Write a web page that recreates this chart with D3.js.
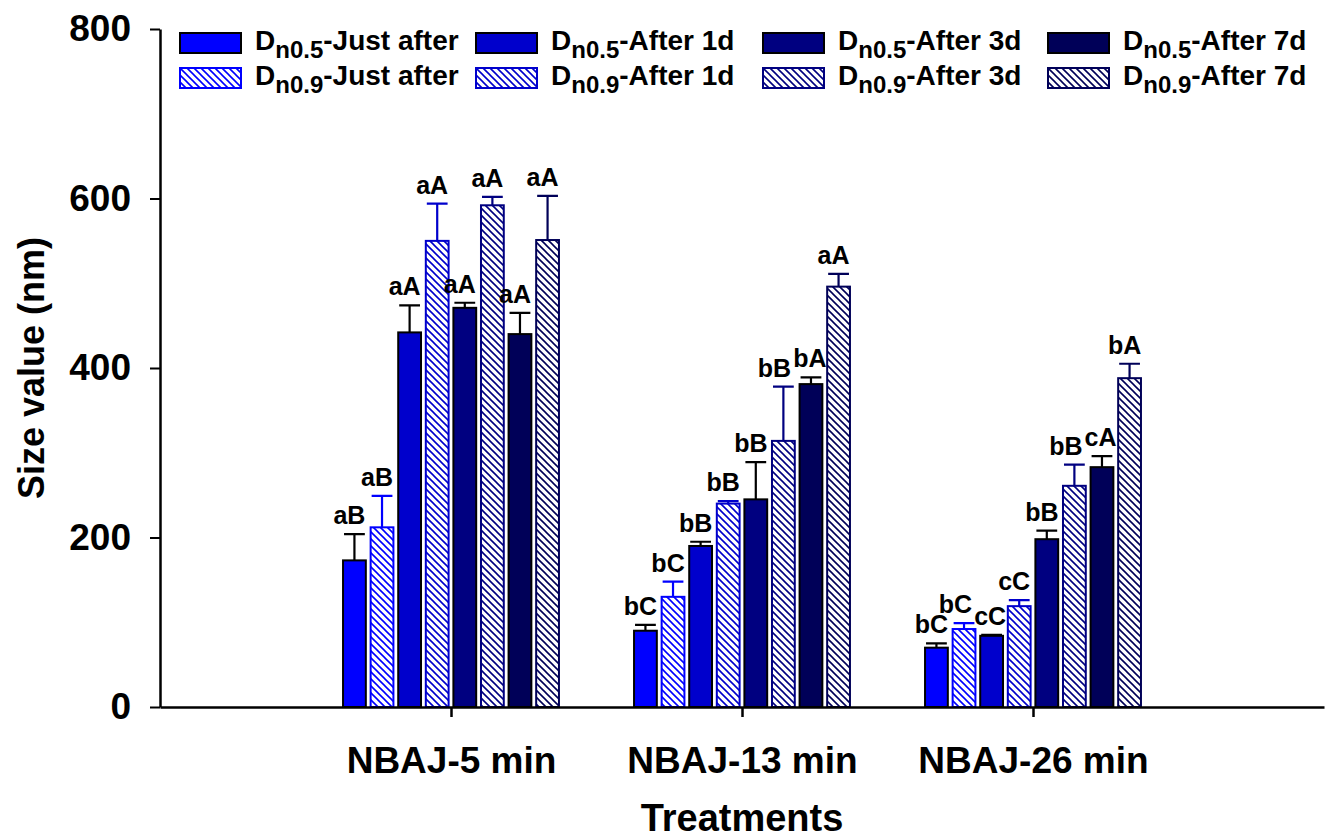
<!DOCTYPE html>
<html>
<head>
<meta charset="utf-8">
<script src="https://cdn.jsdelivr.net/npm/d3@7"></script>
<style>
  html, body { margin: 0; padding: 0; background: #fff; }
  svg { display: block; }
  text { font-family: "Liberation Sans", Arial, sans-serif; font-weight: bold; fill: #000; }
</style>
</head>
<body>
<svg id="chart" width="1326" height="840"></svg>
<script>
// ---- data ----
const treatments = ["NBAJ-5 min", "NBAJ-13 min", "NBAJ-26 min"];
const diameters = ["n0.5", "n0.9"];
const times = ["Just after", "After 1d", "After 3d", "After 7d"];
const yTicks = [0, 200, 400, 600, 800];

// bar order within each treatment: n0.5/n0.9 alternating for each time
const means5min  = [173, 212, 442, 550, 471, 592, 440, 551];
const errors5min = [31, 37, 32, 44, 6, 10, 25, 52];
const letters5min = ["aB", "aB", "aA", "aA", "aA", "aA", "aA", "aA"];

const means13min  = [90, 130, 190, 240, 245, 314, 381, 496];
const errors13min = [7, 18, 5, 3, 44, 64, 8, 15];
const letters13min = ["bC", "bC", "bB", "bB", "bB", "bB", "bA", "aA"];

const means26min  = [70, 92, 84, 119, 198, 261, 283, 388];
const errors26min = [5, 7, 1, 7, 10, 25, 13, 17];
const letters26min = ["bC", "bC", "cC", "cC", "bB", "bB", "cA", "bA"];

const timeColors = ["#0000ff", "#0000cc", "#000080", "#000058"];

// ---- assemble ----
const meansByTreatment = [means5min, means13min, means26min];
const errorsByTreatment = [errors5min, errors13min, errors26min];
const lettersByTreatment = [letters5min, letters13min, letters26min];

const bars = [];
treatments.forEach((t, gi) => {
  meansByTreatment[gi].forEach((v, si) => {
    bars.push({
      group: gi, slot: si,
      diam: si % 2, time: Math.floor(si / 2),
      value: v, err: errorsByTreatment[gi][si], letter: lettersByTreatment[gi][si]
    });
  });
});

const svg = d3.select("#chart");
const x = d3.scaleLinear().domain([0, 4]).range([160, 1324]);
const y = d3.scaleLinear().domain([0, 800]).range([707, 29]);
const groupSpan = x(0.742) - x(0);
const inner = d3.scaleBand().domain(d3.range(8))
  .range([-groupSpan / 2, groupSpan / 2]).paddingInner(0.174).paddingOuter(0);

// hatch patterns (diagonal "\" strokes on white)
const defs = svg.append("defs");
timeColors.forEach((c, i) => {
  const p = defs.append("pattern").attr("id", "hatch" + i)
    .attr("patternUnits", "userSpaceOnUse").attr("width", 7).attr("height", 7);
  p.append("rect").attr("width", 7).attr("height", 7).attr("fill", "#fff");
  p.append("path").attr("d", "M0,0L7,7M-1,6L1,8M6,-1L8,1")
    .attr("stroke", c).attr("stroke-width", 1.6).attr("fill", "none");
});
const fillFor = d => d.diam === 0 ? timeColors[d.time] : `url(#hatch${d.time})`;
const strokeFor = d => d.diam === 0 ? "#000" : timeColors[d.time];
const barX = d => x(d.group + 1) + inner(d.slot);
const barCx = d => barX(d) + inner.bandwidth() / 2;

// ---- bars ----
svg.append("g").selectAll("rect").data(bars).join("rect")
  .attr("x", barX)
  .attr("y", d => y(d.value))
  .attr("width", inner.bandwidth())
  .attr("height", d => y(0) - y(d.value))
  .attr("fill", fillFor)
  .attr("stroke", strokeFor)
  .attr("stroke-width", 2);

// ---- error bars (upper only) ----
const eg = svg.append("g").attr("fill", "none").attr("stroke-width", 2.2);
eg.selectAll("path").data(bars).join("path")
  .attr("stroke", strokeFor)
  .attr("d", d => {
    const cx = barCx(d), y0 = y(d.value), y1 = y(d.value + d.err), h = inner.bandwidth() / 2 - 1;
    return `M${cx},${y0}V${y1}M${cx - h},${y1}H${cx + h}`;
  });

// ---- significance letters ----
const letterSize = 25;
const letterText = svg.append("g").selectAll("text").data(bars).join("text")
  .attr("text-anchor", "middle")
  .attr("font-size", letterSize)
  .text(d => d.letter);
bars.forEach(d => { d.lx = barCx(d) - 5; d.ly = y(d.value + d.err) - 10; });
letterText.each(function (d) { d.lw = this.getComputedTextLength(); });
// push neighbouring letters apart sideways when they would collide
treatments.forEach((t, gi) => {
  const row = bars.filter(d => d.group === gi);
  for (let i = 1; i < row.length; i++) {
    const a = row[i - 1], b = row[i];
    if (Math.abs(a.ly - b.ly) < letterSize * 0.75) {
      const overlap = (a.lx + a.lw / 2) - (b.lx - b.lw / 2) + 2;
      if (overlap > 0) { a.lx -= overlap / 2; b.lx += overlap / 2; }
    }
  }
});
letterText.attr("x", d => d.lx).attr("y", d => d.ly);

// ---- axes ----
const yAxis = svg.append("g").attr("transform", `translate(${x(0)},0)`)
  .call(d3.axisLeft(y).tickValues(yTicks).tickSize(10).tickSizeOuter(0).tickPadding(19).tickFormat(d3.format("d")));
yAxis.selectAll("text").attr("font-size", 37);
yAxis.selectAll("line, path").attr("stroke", "#000").attr("stroke-width", 2);

const xAxis = svg.append("g").attr("transform", `translate(0,${y(0)})`)
  .call(d3.axisBottom(x).tickValues([1, 2, 3]).tickSize(10).tickSizeOuter(0).tickFormat(d => treatments[d - 1]));
xAxis.selectAll("text").attr("font-size", 37).attr("y", 66).attr("dy", null);
xAxis.selectAll("line, path").attr("stroke", "#000").attr("stroke-width", 2.5);
svg.selectAll(".domain").attr("stroke-width", 2.5);
svg.selectAll(".tick text").attr("font-family", "'Liberation Sans', Arial, sans-serif").attr("font-weight", "bold");

// ---- axis titles ----
svg.append("text")
  .attr("transform", `translate(44,${y(400)}) rotate(-90)`)
  .attr("text-anchor", "middle").attr("font-size", 36)
  .text("Size value (nm)");
svg.append("text")
  .attr("x", x(2)).attr("y", 831)
  .attr("text-anchor", "middle").attr("font-size", 38)
  .text("Treatments");

// ---- legend ----
const legendCols = [180, 476, 763, 1048];
const legendRows = [33, 68];
const legendItems = [];
diameters.forEach((dm, r) => times.forEach((tm, c) => legendItems.push({ diam: r, time: c, dm, tm })));
const lg = svg.append("g").selectAll("g").data(legendItems).join("g")
  .attr("transform", d => `translate(${legendCols[d.time]},${legendRows[d.diam]})`);
lg.append("rect")
  .attr("width", 61).attr("height", 20)
  .attr("fill", fillFor).attr("stroke", strokeFor).attr("stroke-width", 2);
const lt = lg.append("text").attr("x", 75).attr("y", 17).attr("font-size", 28);
lt.append("tspan").text("D");
lt.append("tspan").attr("font-size", 24).attr("dy", 8).text(d => d.dm);
lt.append("tspan").attr("dy", -8).text(d => "-" + d.tm);
</script>
</body>
</html>
